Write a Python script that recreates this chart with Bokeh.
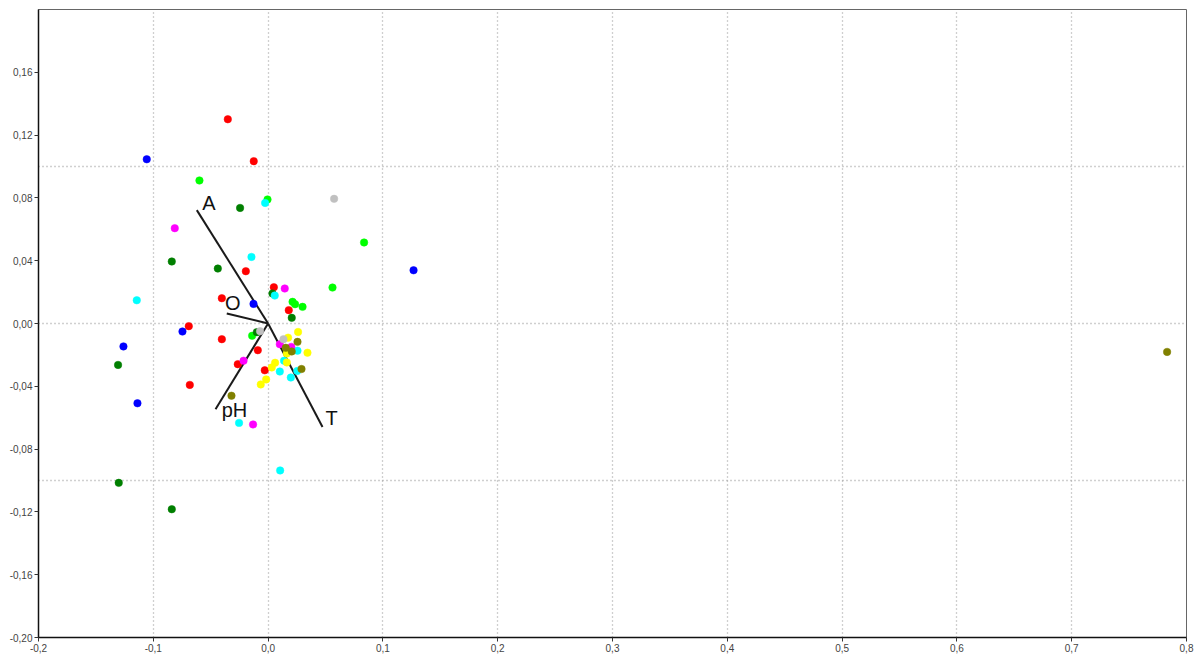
from bokeh.plotting import figure
from bokeh.models import FixedTicker, CustomJSTickFormatter, Range1d
from bokeh.core.properties import value
from bokeh.embed import file_html
from bokeh.resources import INLINE

# Sample scores, one pair of arrays per group
red_x = [-0.0351, -0.0125, -0.0194, 0.0050, -0.0403, 0.0180, -0.0691, -0.0403, -0.0090, -0.0264, -0.0029, -0.0682]
red_y = [0.1301, 0.1034, 0.0333, 0.0231, 0.0161, 0.0085, -0.0017, -0.0100, -0.0170, -0.0259, -0.0298, -0.0391]

blue_x = [-0.1057, 0.1267, -0.0127, -0.0746, -0.1260, -0.1138]
blue_y = [0.1046, 0.0339, 0.0125, -0.0051, -0.0146, -0.0508]

lime_x = [-0.0598, -0.0005, 0.0836, 0.0561, 0.0213, 0.0235, 0.0300, -0.0139]
lime_y = [0.0911, 0.0790, 0.0516, 0.0229, 0.0138, 0.0123, 0.0106, -0.0078]

dkgreen_x = [-0.0244, -0.0839, -0.0438, 0.0038, 0.0206, -0.0098, -0.1307, -0.1301, -0.0839]
dkgreen_y = [0.0736, 0.0395, 0.0350, 0.0191, 0.0036, -0.0055, -0.0264, -0.1015, -0.1183]

cyan_x = [-0.0026, -0.0145, -0.1144, 0.0058, 0.0256, 0.0139, 0.0102, 0.0198, 0.0254, -0.0253, 0.0105]
cyan_y = [0.0768, 0.0424, 0.0148, 0.0178, -0.0173, -0.0237, -0.0306, -0.0344, -0.0302, -0.0633, -0.0936]

magenta_x = [-0.0813, 0.0145, 0.0102, 0.0202, -0.0214, -0.0131]
magenta_y = [0.0607, 0.0223, -0.0132, -0.0149, -0.0237, -0.0643]

yellow_x = [0.0261, 0.0174, 0.0343, 0.0163, 0.0163, 0.0061, 0.0032, -0.0017, -0.0064]
yellow_y = [-0.0054, -0.0090, -0.0186, -0.0191, -0.0248, -0.0250, -0.0280, -0.0356, -0.0388]

olive_x = [0.0256, 0.0154, 0.0206, 0.0291, -0.0319, 0.7831]
olive_y = [-0.0117, -0.0155, -0.0178, -0.0290, -0.0460, -0.0181]

gray_x = [0.0575, -0.0070, 0.0134]
gray_y = [0.0794, -0.0049, -0.0100]

# Environmental variable vectors
vec_names = ["A", "O", "pH", "T"]
vec_x = [-0.0621, -0.0360, -0.0458, 0.0474]
vec_y = [0.0722, 0.0064, -0.0546, -0.0659]

x_ticks = [-0.2, -0.1, 0.0, 0.1, 0.2, 0.3, 0.4, 0.5, 0.6, 0.7, 0.8]
y_ticks = [-0.20, -0.16, -0.12, -0.08, -0.04, 0.0, 0.04, 0.08, 0.12, 0.16]
y_grid = [-0.1, 0.0, 0.1]

groups = [
    (red_x, red_y, "#ff0000"),
    (blue_x, blue_y, "#0000ff"),
    (lime_x, lime_y, "#00ff00"),
    (dkgreen_x, dkgreen_y, "#007f00"),
    (cyan_x, cyan_y, "#00ffff"),
    (magenta_x, magenta_y, "#ff00ff"),
    (yellow_x, yellow_y, "#ffff00"),
    (olive_x, olive_y, "#808000"),
    (gray_x, gray_y, "#c0c0c0"),
]

p = figure(
    frame_width=1148, frame_height=628,
    min_border_left=38, min_border_right=13, min_border_top=9, min_border_bottom=19,
    x_range=Range1d(-0.2, 0.8), y_range=Range1d(-0.2, 0.2),
    output_backend="svg", toolbar_location=None,
    background_fill_color="white", border_fill_color="white",
)
p.outline_line_color = "#666666"
p.outline_line_width = 1

# axes
for ax in (p.xaxis[0], p.yaxis[0]):
    ax.axis_line_color = "#111111"
    ax.axis_line_width = 1.5
    ax.major_tick_line_color = "#333333"
    ax.major_tick_out = 4
    ax.major_tick_in = 0
    ax.minor_tick_line_color = None
    ax.major_label_text_font = "Liberation Sans"
    ax.major_label_text_font_size = "10px"
    ax.major_label_text_color = "#444444"
    ax.major_label_standoff = 2

p.xaxis.ticker = FixedTicker(ticks=x_ticks)
p.yaxis.ticker = FixedTicker(ticks=y_ticks)
p.xaxis.formatter = CustomJSTickFormatter(
    code="var s = tick.toFixed(1).replace('.', ','); return s === '-0,0' ? '0,0' : s;")
p.yaxis.formatter = CustomJSTickFormatter(
    code="var s = tick.toFixed(2).replace('.', ','); return s === '-0,00' ? '0,00' : s;")

# dotted reference grid
p.xgrid.ticker = FixedTicker(ticks=x_ticks)
p.ygrid.ticker = FixedTicker(ticks=y_grid)
for g in (p.xgrid[0], p.ygrid[0]):
    g.grid_line_color = "#a0a0a0"
    g.grid_line_dash = "1 3"
    g.grid_line_width = 1.3

# vectors from the origin
p.segment(x0=[0] * len(vec_x), y0=[0] * len(vec_y), x1=vec_x, y1=vec_y,
          line_color="#1a1a1a", line_width=2)

# sample points
for xs, ys, c in groups:
    p.scatter(xs, ys, size=7.5, fill_color=c, line_color=c, line_width=0.5)

# vector labels, nudged off the arrow tips (pixels)
lab_dx = [12, 6, 19, 9]
lab_dy = [-7, -10, 1, -9]
p.text(x=vec_x, y=vec_y, text=vec_names, x_offset=lab_dx, y_offset=lab_dy,
       text_font=value("Liberation Sans"), text_font_size="20px",
       text_color="#111111", text_align="center", text_baseline="middle")

open("out.html", "w").write(file_html(p, INLINE))
